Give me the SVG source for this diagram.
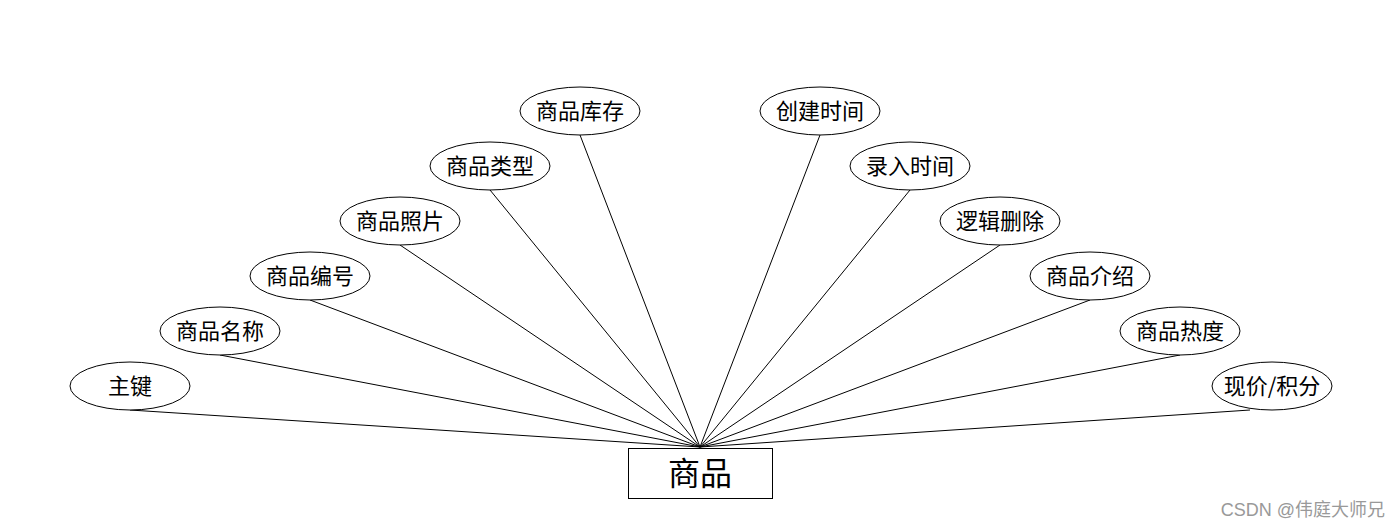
<svg xmlns="http://www.w3.org/2000/svg" width="1400" height="528" viewBox="0 0 1400 528">
<style>
.n ellipse{fill:#fff;stroke:#000;stroke-width:1}
.t{font-family:"Noto Sans CJK SC","Liberation Sans",sans-serif;font-size:22px;text-anchor:middle;dominant-baseline:central;fill:#000}
#edges line{stroke:#000;stroke-width:1}
</style>
<rect width="1400" height="528" fill="#fff"/>
<g id="edges">
<line x1="130" y1="410" x2="700" y2="447"/>
<line x1="220" y1="355" x2="700" y2="447"/>
<line x1="310" y1="300" x2="700" y2="447"/>
<line x1="400" y1="245" x2="700" y2="447"/>
<line x1="490" y1="190" x2="700" y2="447"/>
<line x1="580" y1="135" x2="700" y2="447"/>
<line x1="820" y1="135" x2="700" y2="447"/>
<line x1="910" y1="190" x2="700" y2="447"/>
<line x1="1000" y1="245" x2="700" y2="447"/>
<line x1="1090" y1="300" x2="700" y2="447"/>
<line x1="1180" y1="355" x2="700" y2="447"/>
<line x1="1250" y1="410" x2="700" y2="447"/>
</g>
<g id="n1" class="n"><ellipse cx="130" cy="386" rx="60" ry="24"/><text class="t" x="130" y="384">主键</text></g>
<g id="n2" class="n"><ellipse cx="220" cy="331" rx="60" ry="24"/><text class="t" x="220" y="329">商品名称</text></g>
<g id="n3" class="n"><ellipse cx="310" cy="276" rx="60" ry="24"/><text class="t" x="310" y="274">商品编号</text></g>
<g id="n4" class="n"><ellipse cx="400" cy="221" rx="60" ry="24"/><text class="t" x="400" y="219">商品照片</text></g>
<g id="n5" class="n"><ellipse cx="490" cy="166" rx="60" ry="24"/><text class="t" x="490" y="164">商品类型</text></g>
<g id="n6" class="n"><ellipse cx="580" cy="111" rx="60" ry="24"/><text class="t" x="580" y="109">商品库存</text></g>
<g id="n7" class="n"><ellipse cx="820" cy="111" rx="60" ry="24"/><text class="t" x="820" y="109">创建时间</text></g>
<g id="n8" class="n"><ellipse cx="910" cy="166" rx="60" ry="24"/><text class="t" x="910" y="164">录入时间</text></g>
<g id="n9" class="n"><ellipse cx="1000" cy="221" rx="60" ry="24"/><text class="t" x="1000" y="219">逻辑删除</text></g>
<g id="n10" class="n"><ellipse cx="1090" cy="276" rx="60" ry="24"/><text class="t" x="1090" y="274">商品介绍</text></g>
<g id="n11" class="n"><ellipse cx="1180" cy="331" rx="60" ry="24"/><text class="t" x="1180" y="329">商品热度</text></g>
<g id="n12" class="n"><ellipse cx="1272" cy="386" rx="60" ry="24"/><text class="t" x="1272" y="384">现价/积分</text></g>
<g id="main"><rect x="628.5" y="448.5" width="144" height="50" fill="#fff" stroke="#000" stroke-width="1"/><text class="t" x="700" y="471" style="font-size:32px">商品</text></g>
<text x="1385" y="516" style="font-family:'Liberation Sans','Noto Sans CJK SC',sans-serif;font-size:18px;fill:#999;text-anchor:end">CSDN @伟庭大师兄</text>
</svg>
